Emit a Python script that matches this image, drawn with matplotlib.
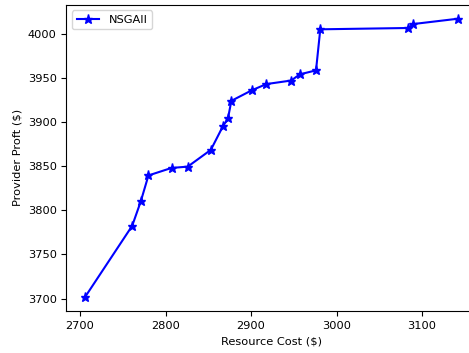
import numpy as np
import matplotlib
matplotlib.use("Agg")
import matplotlib.pyplot as plt

# valori
costo = [2706, 2761, 2771, 2780, 2807, 2826, 2853, 2867, 2873, 2877,
         2901, 2918, 2947, 2957, 2976, 2981, 3084, 3090, 3142]
profitto = [3702, 3782.5, 3810, 3839.5, 3848, 3849.5, 3868.5, 3895, 3904, 3924,
            3936, 3943, 3947, 3954, 3958.5, 4005, 4006.5, 4011, 4017]

plt.rcParams['font.size'] = 8.2

fig = plt.figure(figsize=(4.69, 3.53), dpi=100)
ax = fig.add_axes([0.1415, 0.119, 0.875, 0.868])

ax.plot(costo, profitto, 'b-*', linewidth=1.5, markersize=6.5, label='NSGAII')
ax.set_xlim(2684, 3164)
ax.set_ylim(3686, 4033)
ax.set_xticks([2700, 2800, 2900, 3000, 3100])
ax.set_xlabel('Resource Cost ($)')
ax.set_ylabel('Provider Proft ($)')
ax.legend(loc='upper left')

fig.savefig('out.png', dpi=100)
